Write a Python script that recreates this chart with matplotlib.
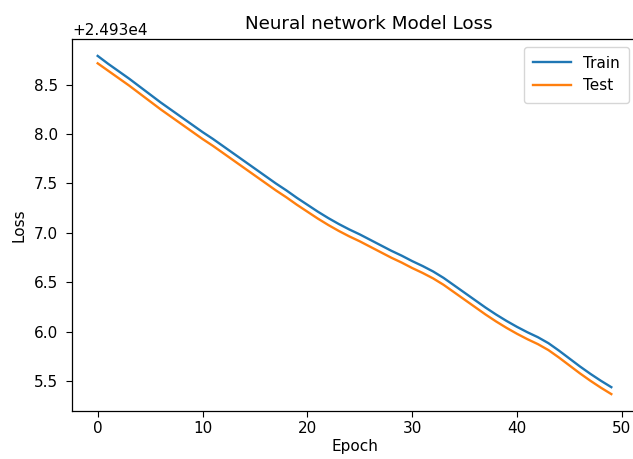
import matplotlib
matplotlib.use("Agg")
import matplotlib.pyplot as plt

# loss history (offset 24930)
base = 24930
epochs = list(range(50))
train_loss = [8.79, 8.71, 8.635, 8.56, 8.48, 8.40, 8.32, 8.245, 8.17, 8.095,
              8.02, 7.95, 7.875, 7.80, 7.725, 7.65, 7.575, 7.50, 7.43, 7.355,
              7.285, 7.215, 7.15, 7.09, 7.035, 6.985, 6.93, 6.875, 6.82, 6.77,
              6.715, 6.665, 6.61, 6.545, 6.47, 6.395, 6.32, 6.245, 6.175, 6.11,
              6.05, 5.995, 5.945, 5.885, 5.81, 5.73, 5.65, 5.575, 5.505, 5.44]
test_loss = [8.715, 8.64, 8.565, 8.49, 8.41, 8.33, 8.25, 8.175, 8.10, 8.025,
             7.95, 7.88, 7.805, 7.73, 7.655, 7.58, 7.505, 7.43, 7.36, 7.285,
             7.215, 7.145, 7.08, 7.02, 6.965, 6.915, 6.86, 6.805, 6.75, 6.70,
             6.645, 6.595, 6.54, 6.475, 6.40, 6.325, 6.25, 6.175, 6.105, 6.04,
             5.98, 5.925, 5.875, 5.815, 5.74, 5.66, 5.58, 5.505, 5.435, 5.37]

train = [base + v for v in train_loss]
test = [base + v for v in test_loss]

plt.rcParams['font.size'] = 11
plt.rcParams['axes.linewidth'] = 0.9
plt.rcParams['xtick.major.size'] = 4
plt.rcParams['ytick.major.size'] = 4
plt.rcParams['ytick.major.pad'] = 6

fig = plt.figure(figsize=(6.33, 4.59), dpi=100)
ax = fig.add_axes([72 / 633, 1 - 411 / 459, 565 / 633, 372 / 459])
ax.plot(epochs, train, lw=1.7)
ax.plot(epochs, test, lw=1.7)
ax.ticklabel_format(axis='y', useOffset=24930)
ax.set_title('Neural network Model Loss', fontsize=13.2, pad=7, x=0.526)
ax.set_ylabel('Loss', labelpad=5)
ax.set_xlabel('Epoch', labelpad=2)
ax.legend(['Train', 'Test'], loc='upper right', handlelength=2.5,
          borderpad=0.6, borderaxespad=0.5)

fig.savefig('out.png', dpi=100)
